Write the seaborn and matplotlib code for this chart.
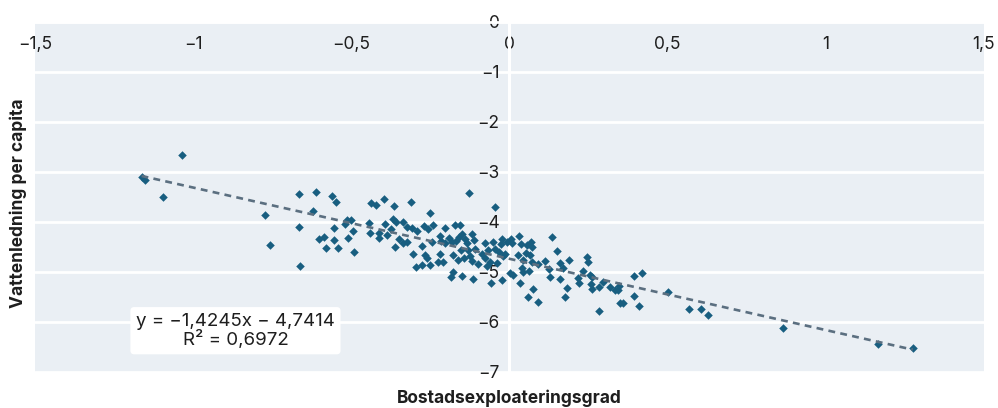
"""
Vattenledning per capita vs bostadsexploateringsgrad — scatter with linear trend
Output: out.png (998x408)
"""

import matplotlib
matplotlib.use("Agg")
import matplotlib.pyplot as plt
from matplotlib.ticker import FuncFormatter
import pandas as pd
import seaborn as sns

# ── Data ──────────────────────────────────────────────────────
exploatering = [
    -1.163, -1.152, -1.094, -1.035, -0.772, -0.756, -0.664, -0.664, -0.662, -0.622,
    -0.611, -0.602, -0.586, -0.580, -0.560, -0.555, -0.554, -0.549, -0.542, -0.520,
    -0.514, -0.511, -0.501, -0.494, -0.490, -0.443, -0.440, -0.437, -0.420, -0.413,
    -0.411, -0.396, -0.393, -0.388, -0.373, -0.369, -0.365, -0.362, -0.358, -0.348,
    -0.335, -0.335, -0.325, -0.323, -0.310, -0.309, -0.304, -0.295, -0.293, -0.275,
    -0.275, -0.269, -0.267, -0.261, -0.256, -0.251, -0.250, -0.244, -0.242, -0.225,
    -0.219, -0.219, -0.215, -0.211, -0.204, -0.203, -0.192, -0.184, -0.182, -0.178,
    -0.177, -0.173, -0.167, -0.161, -0.160, -0.156, -0.154, -0.150, -0.150, -0.143,
    -0.140, -0.135, -0.130, -0.127, -0.124, -0.119, -0.118, -0.114, -0.112, -0.107,
    -0.098, -0.087, -0.077, -0.077, -0.072, -0.066, -0.061, -0.057, -0.053, -0.045,
    -0.045, -0.040, -0.032, -0.027, -0.024, -0.023, -0.019, -0.014, -0.006, 0.002,
    0.006, 0.009, 0.013, 0.028, 0.031, 0.034, 0.036, 0.039, 0.044, 0.044,
    0.053, 0.055, 0.060, 0.063, 0.065, 0.069, 0.071, 0.071, 0.074, 0.090,
    0.092, 0.113, 0.127, 0.129, 0.134, 0.152, 0.160, 0.160, 0.171, 0.176,
    0.182, 0.188, 0.216, 0.220, 0.234, 0.245, 0.250, 0.255, 0.257, 0.261,
    0.263, 0.285, 0.285, 0.295, 0.319, 0.334, 0.345, 0.348, 0.350, 0.361,
    0.395, 0.395, 0.411, 0.421, 0.503, 0.569, 0.605, 0.628, 0.867, 1.167,
    1.276,
]
vattenledning = [
    -3.10, -3.17, -3.50, -2.67, -3.86, -4.47, -3.45, -4.11, -4.88, -3.78,
    -3.40, -4.35, -4.30, -4.52, -3.48, -4.37, -4.12, -3.60, -4.52, -4.05,
    -3.97, -4.33, -3.97, -4.19, -4.61, -4.03, -4.23, -3.62, -3.66, -4.33,
    -4.22, -3.55, -4.05, -4.27, -4.15, -3.95, -3.68, -4.51, -4.01, -4.35,
    -4.01, -4.42, -4.10, -4.41, -3.61, -4.13, -4.65, -4.90, -4.19, -4.49,
    -4.87, -4.09, -4.66, -4.73, -4.15, -4.86, -3.83, -4.41, -4.06, -4.80,
    -4.29, -4.65, -4.39, -4.81, -4.13, -4.43, -4.32, -5.10, -4.41, -4.67,
    -5.01, -4.07, -4.39, -4.77, -4.30, -4.07, -4.57, -4.25, -5.09, -4.73,
    -4.35, -4.43, -4.57, -3.42, -4.69, -4.78, -4.25, -5.15, -4.37, -4.55,
    -4.85, -4.65, -4.43, -4.73, -4.88, -4.57, -4.80, -5.22, -4.41, -3.70,
    -4.55, -4.83, -4.60, -4.45, -4.35, -5.17, -4.69, -4.65, -4.40, -5.03,
    -4.34, -4.42, -5.06, -4.67, -4.28, -5.22, -4.45, -4.93, -4.77, -5.00,
    -4.62, -4.47, -5.51, -4.99, -4.67, -4.41, -4.50, -4.80, -5.35, -5.61,
    -4.85, -4.79, -4.95, -5.11, -4.31, -4.58, -4.82, -5.14, -4.93, -5.51,
    -5.33, -4.77, -5.13, -5.23, -4.99, -4.70, -4.81, -5.07, -5.25, -5.35,
    -5.11, -5.31, -5.79, -5.20, -5.31, -5.37, -5.37, -5.29, -5.63, -5.63,
    -5.09, -5.49, -5.68, -5.02, -5.41, -5.75, -5.75, -5.87, -6.13, -6.45,
    -6.53,
]

# trendline as printed on the chart
SLOPE = -1.4245
INTERCEPT = -4.7414
EQ_TEXT = "y = −1,4245x − 4,7414\nR² = 0,6972"

X_TICKS = [-1.5, -1.0, -0.5, 0.0, 0.5, 1.0, 1.5]
Y_TICKS = [0, -1, -2, -3, -4, -5, -6, -7]

df = pd.DataFrame({"x": exploatering, "y": vattenledning})

# ── Style ─────────────────────────────────────────────────────
BG = "#eaeff4"
DOT = "#185e80"
TREND = "#5b6f80"
TXT = "#1e1e1e"

sns.set_style("white")
plt.rcParams["font.family"] = ["Inter", "DejaVu Sans"]
plt.rcParams["text.color"] = TXT
plt.rcParams["axes.labelcolor"] = TXT
plt.rcParams["xtick.color"] = TXT
plt.rcParams["ytick.color"] = TXT


def swe_fmt(v, pos):
    s = f"{v:g}"
    if s == "-0":
        s = "0"
    return s.replace(".", ",").replace("-", "\u2212")


# ── Plot ──────────────────────────────────────────────────────
fig = plt.figure(figsize=(9.98, 4.08), dpi=100)
ax = fig.add_axes([0.0351, 0.089, 0.9504, 0.8578])
ax.set_facecolor(BG)

sns.scatterplot(data=df, x="x", y="y", marker="D", s=19, color=DOT,
                linewidth=0, ax=ax, zorder=3)

xs = [df["x"].min(), df["x"].max()]
ax.plot(xs, [SLOPE * v + INTERCEPT for v in xs], color=TREND,
        lw=1.9, ls=(0, (2.6, 2.0)), zorder=4)

ax.set_xlim(-1.5, 1.5)
ax.set_ylim(-7, 0)
ax.set_xticks(X_TICKS)
ax.set_yticks(Y_TICKS)
ax.xaxis.set_major_formatter(FuncFormatter(swe_fmt))
ax.yaxis.set_major_formatter(FuncFormatter(swe_fmt))

# axes cross at origin
for side in ["top", "right"]:
    ax.spines[side].set_visible(False)
ax.spines["bottom"].set_position(("data", 0))
ax.spines["left"].set_position(("data", 0))
ax.spines["bottom"].set_color("white")
ax.spines["left"].set_color("white")
ax.spines["bottom"].set_linewidth(2.0)
ax.spines["left"].set_linewidth(2.2)

ax.grid(axis="y", color="white", lw=2.0)
ax.grid(axis="x", visible=False)
ax.set_axisbelow(True)

ax.tick_params(axis="x", direction="out", length=3, width=1.5, color="white",
               labelsize=12.5, pad=7.5)
ax.tick_params(axis="y", length=0, labelsize=12.5, pad=7)

ax.set_xlabel("Bostadsexploateringsgrad", fontsize=12.5, fontweight="bold")
ax.xaxis.set_label_coords(0.5, -0.077)
ax.xaxis.label.set_va("center")
ax.set_ylabel("Vattenledning per capita", fontsize=12.5, fontweight="bold")
ax.yaxis.set_label_coords(-0.018, 0.48)
ax.yaxis.label.set_va("center")

ax.text(-0.866, -6.18, EQ_TEXT, ha="center", va="center", fontsize=13.5,
        linespacing=1.0, zorder=5,
        bbox=dict(boxstyle="round,pad=0.3,rounding_size=0.2",
                  facecolor="white", edgecolor="none"))

fig.savefig("out.png", dpi=100)
plt.close(fig)
